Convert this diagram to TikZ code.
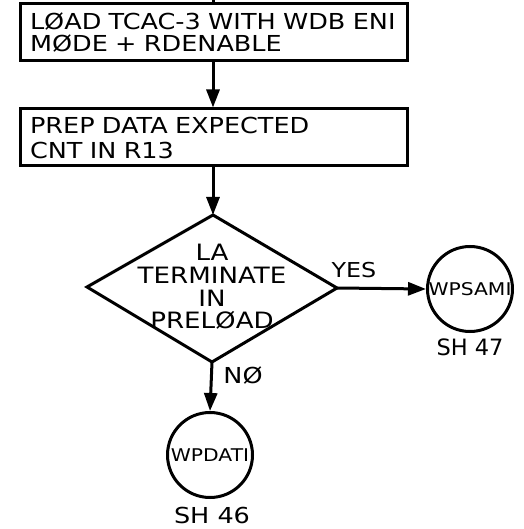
\documentclass[tikz,border=0pt]{standalone}
\usepackage{fontspec}
\setmainfont{DejaVu Sans}
\newfontfamily\handfont[FakeStretch=1.16]{DejaVu Sans}
\usetikzlibrary{arrows.meta}
\begin{document}
\begin{tikzpicture}[x=1pt,y=-1pt,
  line width=3pt,
  every node/.style={font=\handfont\fontsize{22}{22}\selectfont},
  procbox/.style={draw, rectangle, minimum width=387pt, minimum height=57pt, text width=367pt, align=left, inner xsep=10pt, inner ysep=0pt},
  conn/.style={circle, draw, minimum size=85pt, inner sep=0pt, font=\handfont\fontsize{17.5}{18}\selectfont},
  lbl/.style={inner sep=0pt},
  arr/.style={-{Triangle[length=18pt,width=13pt]}}
]
\useasboundingbox (0,0) rectangle (523,529);
\coordinate (top) at (213,0);
\node[procbox] (b1) at (213.5,32.5) {LØAD TCAC-3 WITH WDB ENI\\MØDE + RDENABLE};
\node[procbox, font=\handfont\fontsize{22}{25}\selectfont] (b2) at (213.5,137.5) {PREP DATA EXPECTED\\CNT IN R13};
\coordinate (dt) at (213,215);
\coordinate (dr) at (337,288);
\coordinate (db) at (212,362);
\coordinate (dl) at (87,287);
\draw (dt) -- (dr) -- (db) -- (dl) -- cycle;
\node[lbl, align=center, font=\handfont\fontsize{22.5}{22.7}\selectfont] (dtext) at (212,287) {LA\\TERMINATE\\IN\\PRELØAD};
\node[conn] (c1) at (470,289) {WPSAMI};
\node[conn] (c2) at (210,455) {WPDATI};
\node[lbl, font=\fontsize{22.5}{24}\selectfont] (sh47) at (470,347) {SH 47};
\node[lbl] (sh46) at (212,515) {SH 46};
\node[lbl, font=\handfont\fontsize{20.5}{22}\selectfont] (yes) at (354,270) {YES};
\node[lbl, font=\handfont\fontsize{22}{22}\selectfont] (no) at (243,375) {NØ};
\draw (top) -- (b1.north -| top);
\draw[arr] (b1.south -| top) -- (b2.north -| top);
\draw[arr] (b2.south -| top) -- (dt);
\draw[arr] (dr) -- (c1.west);
\draw[arr] (db) -- (c2.north);
\end{tikzpicture}
\end{document}
